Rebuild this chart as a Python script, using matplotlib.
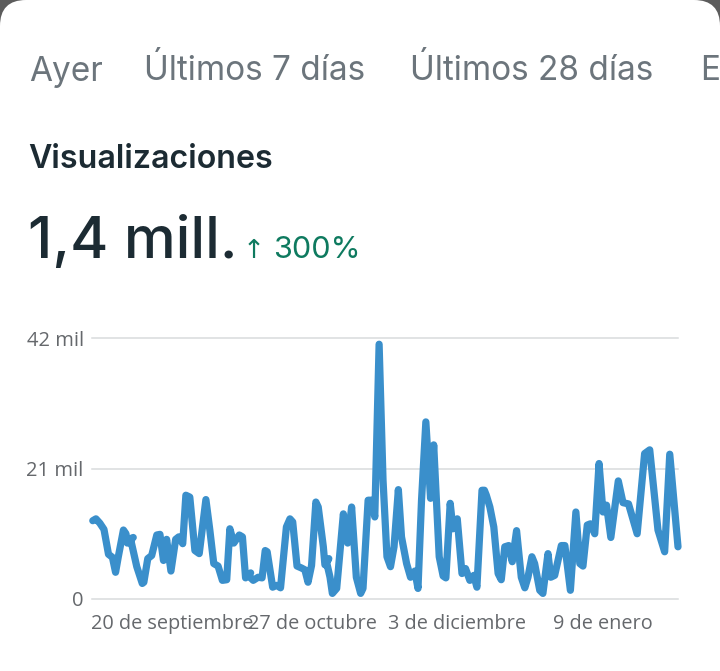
import matplotlib
matplotlib.use("Agg")
import matplotlib.pyplot as plt
from matplotlib.patches import FancyBboxPatch

# dias desde el inicio del periodo y visualizaciones en miles
days = [0.2, 1.0, 2.0, 3.05, 4.2, 5.2, 6.0, 6.7, 8.0, 8.65, 9.0, 10.5, 9.8, 11.4, 12.8, 13.2, 14.2, 15.2, 16.5, 17.3,
        18.2, 19.0, 20.1, 21.3, 22.1, 23.1, 23.9, 24.9, 26.2, 27.3, 29.0, 30.0, 31.0, 32.1, 33.2, 34.3, 35.1, 36.1,
        37.5, 38.3, 39.1, 40.4, 39.8, 41.05, 42.3, 43.3, 44.1, 44.6, 46.0, 47.0, 48.0, 49.5, 50.4, 51.1, 52.2, 53.3,
        54.2, 55.0, 55.9, 57.0, 57.6, 58.9, 59.3, 60.3, 59.7, 60.6, 61.2, 62.3, 64.0, 65.1, 66.1, 67.3, 68.4, 69.0,
        70.3, 71.3, 72.0, 73.1, 74.1, 75.1, 76.0, 76.9, 78.0, 78.8, 80.1, 81.1, 82.2, 83.0, 83.9, 85.0, 86.2, 87.0,
        88.4, 89.4, 90.1, 91.2, 91.9, 93.0, 94.2, 95.1, 96.2, 97.2, 98.0, 99.3, 99.9, 100.4, 101.3, 102.3, 103.4,
        104.2, 105.1, 106.1, 107.0, 108.1, 109.3, 110.2, 111.0, 112.0, 112.7, 114.0, 114.8, 116.1, 116.8, 117.8,
        119.5, 120.4, 121.8, 123.2, 124.2, 125.0, 126.1, 126.9, 128.0, 129.1, 130.1, 131.0, 132.1, 134.0, 135.2,
        136.6, 138.8, 140.7, 142.0, 144.1, 145.8, 147.1, 149.2]
views = [12.6, 12.9, 12.2, 11.2, 7.2, 6.7, 4.3, 6.8, 11.1, 10.5, 9.0, 9.9, 9.7, 5.2, 2.5, 2.7, 6.5, 7.0, 10.3, 10.4,
         6.2, 9.6, 4.5, 9.6, 10.0, 8.9, 16.7, 16.4, 7.8, 7.3, 16.0, 11.1, 5.7, 5.3, 3.0, 3.1, 11.3, 9.0,
         10.3, 10.0, 3.4, 4.2, 3.8, 3.0, 3.5, 3.4, 7.8, 7.6, 1.9, 2.2, 1.8, 11.6, 12.9, 12.4, 5.3, 5.0,
         4.7, 2.7, 5.4, 15.6, 14.8, 8.4, 5.5, 6.5, 6.0, 3.5, 0.9, 1.7, 13.7, 9.0, 14.8, 3.5, 0.9, 1.7,
         15.9, 15.9, 13.2, 41.0, 19.1, 6.8, 5.2, 8.4, 17.6, 10.0, 5.7, 3.5, 4.5, 1.7, 15.9, 28.5, 16.2, 24.8,
         6.8, 3.7, 3.4, 15.4, 11.3, 12.9, 4.1, 4.9, 3.0, 3.8, 1.9, 17.5, 17.5, 16.7, 14.8, 11.6, 4.1,
         3.1, 8.4, 8.6, 6.0, 11.0, 3.5, 1.8, 3.5, 6.8, 5.7, 1.4, 0.9, 7.3, 3.5, 3.8,
         8.6, 8.6, 1.4, 14.0, 5.7, 5.3, 11.9, 12.1, 10.5, 21.8, 14.0, 15.1, 9.9, 19.0, 15.5,
         15.3, 10.5, 23.4, 24.0, 11.1, 7.6, 23.3, 8.4]

y_ticks = [0, 21, 42]
y_labels = ["0", "21 mil", "42 mil"]
x_ticks = [20.4, 56.0, 93.0, 130.0]
x_labels = ["20 de septiembre", "27 de octubre", "3 de diciembre", "9 de enero"]

W, H = 720, 671
fig = plt.figure(figsize=(W / 100, H / 100), dpi=100, facecolor="#5c5c5c")

# capa de fondo en pixeles para la tarjeta y los textos
bg = fig.add_axes([0, 0, 1, 1])
bg.set_xlim(0, W)
bg.set_ylim(H, 0)
bg.axis("off")
bg.add_patch(FancyBboxPatch((0, 0), W, H + 60, boxstyle="round,pad=0,rounding_size=26",
                            facecolor="white", edgecolor="none"))

tab_font = ["Inter", "DejaVu Sans"]
for x, s in [(29, "Ayer"), (144, "Últimos 7 días"), (410, "Últimos 28 días"), (700, "E")]:
    bg.text(x, 80.5, s, fontsize=24, color="#6c757c", family=tab_font, va="baseline", clip_on=True)
bg.text(28, 168, "Visualizaciones", fontsize=23.2, color="#1c2b33", family=tab_font, weight="semibold", va="baseline")
bg.text(28, 258, "1,4 mill.", fontsize=42, color="#1c2b33", family=tab_font, weight="medium", va="baseline")
bg.text(243, 258, "↑", fontsize=19, color="#0e7a5f", family=["DejaVu Sans"], va="baseline")
bg.text(273, 258.5, "300%", fontsize=22, color="#0e7a5f", family=tab_font, va="baseline")

# grafico
left, right, top, bottom = 92, 678, 338, 599
ax = fig.add_axes([left / W, 1 - bottom / H, (right - left) / W, (bottom - top) / H])
ax.patch.set_alpha(0)
ax.plot(days, views, color="#3a8fcb", lw=5.2, solid_joinstyle="round", solid_capstyle="round", clip_on=False, zorder=3)
ax.set_xlim(0, 149.2)
ax.set_ylim(0, 42)
for s in ax.spines.values():
    s.set_visible(False)
ax.set_yticks(y_ticks, y_labels, family="Open Sans", fontsize=14.5, color="#65686c")
ax.set_xticks(x_ticks, x_labels, family="Open Sans", fontsize=14.3, color="#65686c")
ax.tick_params(axis="both", length=0)
ax.tick_params(axis="y", pad=6)
ax.tick_params(axis="x", pad=11)
ax.grid(axis="y", color="#d9dbdd", lw=1.1, clip_on=False)
ax.set_axisbelow(True)

fig.savefig("out.png", dpi=100, facecolor=fig.get_facecolor())
